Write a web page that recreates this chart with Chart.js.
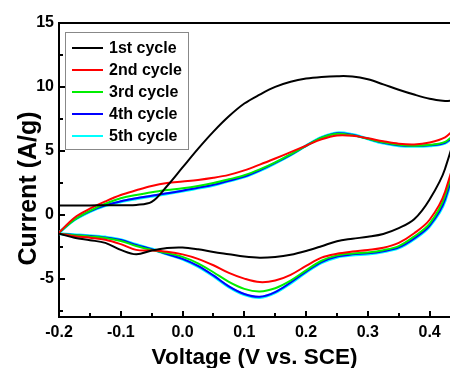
<!DOCTYPE html>
<html>
<head>
<meta charset="utf-8">
<title>CV curves</title>
<script src="https://cdn.jsdelivr.net/npm/chart.js@4.4.1/dist/chart.umd.min.js"></script>
<style>
    html, body { margin: 0; padding: 0; background: #fff; }
    #wrap { width: 450px; height: 368px; }
</style>
</head>
<body>
<div id="wrap"><canvas id="cvChart"></canvas></div>
<script>
// Потенциал (V vs. SCE): прямая развертка и обратная
const voltageUp = [-0.2, -0.175, -0.15, -0.125, -0.1, -0.075, -0.05, -0.025, 0, 0.025, 0.05, 0.075, 0.1,
    0.125, 0.15, 0.175, 0.2, 0.225, 0.25, 0.275, 0.3, 0.325, 0.35, 0.375, 0.4, 0.425, 0.45];
const voltageDown = [0.425, 0.4, 0.375, 0.35, 0.325, 0.3, 0.275, 0.25, 0.225, 0.2, 0.175, 0.15, 0.125,
    0.1, 0.075, 0.05, 0.025, 0, -0.025, -0.05, -0.075, -0.1, -0.125, -0.15, -0.175, -0.2];

const cycleLabels = ['1st cycle', '2nd cycle', '3rd cycle', '4th cycle', '5th cycle'];
const cycleColors = ['#000000', '#ff0000', '#00ee00', '#0000ff', '#00ffff'];

// Ток (A/g), анодная ветвь
const cycle1Up = [0.73, 0.73, 0.73, 0.74, 0.75, 0.77, 1.0, 2.25, 3.7, 5.15, 6.5, 7.7, 8.7, 9.4, 10.0, 10.4, 10.65, 10.78, 10.84, 10.82, 10.6, 10.2, 9.78, 9.4, 9.08, 8.9, 8.8];
const cycle2Up = [-1.4, -0.23, 0.47, 1.04, 1.54, 1.91, 2.25, 2.48, 2.6, 2.72, 2.89, 3.12, 3.47, 3.92, 4.4, 4.9, 5.4, 5.9, 6.2, 6.18, 5.98, 5.75, 5.56, 5.5, 5.65, 6.05, 7.0];
const cycle3Up = [-1.4, -0.39, 0.31, 0.86, 1.29, 1.54, 1.76, 1.93, 2.07, 2.25, 2.48, 2.77, 3.09, 3.55, 4.1, 4.73, 5.39, 6.02, 6.33, 6.21, 5.94, 5.66, 5.47, 5.4, 5.47, 5.7, 6.6];
const cycle4Up = [-1.4, -0.39, 0.27, 0.74, 1.05, 1.29, 1.48, 1.68, 1.88, 2.11, 2.34, 2.66, 2.99, 3.48, 4.06, 4.69, 5.39, 6.02, 6.37, 6.25, 5.94, 5.63, 5.43, 5.39, 5.43, 5.63, 6.4];
const cycle5Up = [-1.4, -0.4, 0.25, 0.72, 1.02, 1.25, 1.45, 1.65, 1.85, 2.08, 2.31, 2.63, 2.96, 3.45, 4.04, 4.68, 5.4, 6.05, 6.4, 6.27, 5.94, 5.6, 5.4, 5.35, 5.4, 5.6, 6.4];

// Ток (A/g), катодная ветвь
const cycle1Down = [3.6, 1.2, -0.35, -1.05, -1.5, -1.72, -1.88, -2.07, -2.46, -2.83, -3.13, -3.3, -3.36, -3.27, -3.09, -2.91, -2.7, -2.56, -2.6, -2.8, -3.1, -2.75, -2.2, -1.99, -1.8, -1.48];
const cycle2Down = [1.8, -0.39, -1.45, -2.2, -2.58, -2.75, -2.88, -3.05, -3.35, -4.0, -4.7, -5.15, -5.27, -5.0, -4.55, -3.95, -3.45, -3.1, -2.9, -2.8, -2.75, -2.3, -1.95, -1.8, -1.68, -1.48];
const cycle3Down = [1.5, -0.7, -1.7, -2.45, -2.77, -2.95, -3.03, -3.18, -3.6, -4.35, -5.15, -5.75, -6.0, -5.8, -5.25, -4.5, -3.8, -3.3, -3.0, -2.75, -2.45, -2.05, -1.82, -1.7, -1.6, -1.48];
const cycle4Down = [1.2, -0.85, -1.85, -2.55, -2.85, -3.02, -3.1, -3.27, -3.7, -4.45, -5.3, -6.05, -6.42, -6.2, -5.6, -4.75, -4.0, -3.45, -3.08, -2.7, -2.36, -1.98, -1.78, -1.66, -1.58, -1.48];
const cycle5Down = [1.1, -0.9, -1.9, -2.6, -2.9, -3.07, -3.15, -3.32, -3.75, -4.5, -5.35, -6.1, -6.48, -6.25, -5.65, -4.8, -4.05, -3.47, -3.08, -2.68, -2.33, -1.95, -1.75, -1.64, -1.56, -1.48];

const FONT = '"Liberation Sans", Arial, sans-serif';

// Собираем замкнутую петлю ЦВА из двух ветвей
function makeLoop(up, down) {
    const pts = voltageUp.map((v, i) => ({ x: v, y: up[i] }));
    voltageDown.forEach((v, i) => pts.push({ x: v, y: down[i] }));
    return pts;
}

const upSets = [cycle1Up, cycle2Up, cycle3Up, cycle4Up, cycle5Up];
const downSets = [cycle1Down, cycle2Down, cycle3Down, cycle4Down, cycle5Down];
const widths = [2, 2, 2, 2, 3];

// Засечки внутрь и верхняя рамка
const innerTicks = {
    id: 'innerTicks',
    afterDraw(chart) {
        const { ctx, chartArea, scales } = chart;
        ctx.save();
        ctx.strokeStyle = '#000';
        ctx.lineWidth = 2;
        ctx.beginPath();
        ctx.moveTo(chartArea.left - 1, chartArea.top);
        ctx.lineTo(chartArea.right, chartArea.top);
        ctx.stroke();
        scales.x.ticks.forEach(t => {
            const px = Math.round(scales.x.getPixelForValue(t.value));
            const len = t.label ? 6 : 4;
            ctx.beginPath();
            ctx.moveTo(px, chartArea.bottom);
            ctx.lineTo(px, chartArea.bottom - len);
            ctx.stroke();
        });
        scales.y.ticks.forEach(t => {
            const py = Math.round(scales.y.getPixelForValue(t.value));
            const len = t.label ? 6 : 4;
            ctx.beginPath();
            ctx.moveTo(chartArea.left, py);
            ctx.lineTo(chartArea.left + len, py);
            ctx.stroke();
        });
        ctx.restore();
    }
};

// Легенда в рамке внутри области графика
const boxedLegend = {
    id: 'boxedLegend',
    afterDatasetsDraw(chart) {
        const { ctx, chartArea } = chart;
        const x0 = chartArea.left + 6, y0 = chartArea.top + 9;
        ctx.save();
        ctx.fillStyle = '#fff';
        ctx.fillRect(x0, y0, 123, 117);
        ctx.strokeStyle = '#888';
        ctx.lineWidth = 1;
        ctx.strokeRect(x0 + 0.5, y0 + 0.5, 123, 117);
        ctx.font = 'bold 16px ' + FONT;
        ctx.textBaseline = 'middle';
        chart.data.datasets.forEach((ds, i) => {
            const cy = Math.round(y0 + 16 + i * 22.1);
            ctx.strokeStyle = ds.borderColor;
            ctx.lineWidth = 2;
            ctx.beginPath();
            ctx.moveTo(x0 + 7, cy);
            ctx.lineTo(x0 + 38, cy);
            ctx.stroke();
            ctx.fillStyle = '#000';
            ctx.fillText(ds.label, x0 + 44, cy + 1);
        });
        ctx.restore();
    }
};

// Подпись оси Y
const yAxisTitle = {
    id: 'yAxisTitle',
    afterDraw(chart) {
        const ctx = chart.ctx;
        ctx.save();
        ctx.translate(36, 188.5);
        ctx.rotate(-Math.PI / 2);
        ctx.font = 'bold 25px ' + FONT;
        ctx.fillStyle = '#000';
        ctx.textAlign = 'center';
        ctx.textBaseline = 'alphabetic';
        ctx.fillText('Current (A/g)', 0, 0);
        ctx.restore();
    }
};

Chart.defaults.font.family = FONT;
Chart.defaults.color = '#000';

new Chart(document.getElementById('cvChart'), {
    type: 'scatter',
    data: {
        datasets: cycleLabels.map((label, i) => ({
            label: label,
            data: makeLoop(upSets[i], downSets[i]),
            showLine: true,
            borderColor: cycleColors[i],
            backgroundColor: cycleColors[i],
            borderWidth: widths[i],
            pointRadius: 0,
            tension: 0.35
        }))
    },
    options: {
        responsive: true,
        maintainAspectRatio: false,
        animation: false,
        layout: { padding: { top: 23, right: 0, bottom: 0, left: 0 } },
        plugins: {
            legend: { display: false },
            tooltip: { enabled: false }
        },
        scales: {
            x: {
                type: 'linear',
                min: -0.2,
                max: 0.433,
                grid: { drawOnChartArea: false, drawTicks: false },
                border: { color: '#000', width: 2 },
                ticks: {
                    stepSize: 0.05,
                    includeBounds: false,
                    autoSkip: false,
                    maxRotation: 0,
                    padding: 6,
                    font: { size: 16, weight: 'bold' },
                    callback: v => (Math.round(v * 20) % 2 === 0) ? (Math.round(v * 10) / 10 + 0).toFixed(1) : ''
                },
                title: {
                    display: true,
                    text: 'Voltage (V vs. SCE)',
                    font: { size: 22.5, weight: 'bold', lineHeight: 1 },
                    padding: { top: 0, bottom: -1 }
                },
                afterFit: s => { s.height = 51; s.paddingRight = 0; }
            },
            y: {
                type: 'linear',
                min: -8,
                max: 15,
                grid: { drawOnChartArea: false, drawTicks: false },
                border: { color: '#000', width: 2 },
                ticks: {
                    stepSize: 2.5,
                    includeBounds: false,
                    padding: 5,
                    font: { size: 16, weight: 'bold' },
                    callback: v => (Math.abs(v % 5) < 1e-9) ? String(v) : ''
                },
                afterFit: s => { s.width = 59; }
            }
        }
    },
    plugins: [innerTicks, boxedLegend, yAxisTitle]
});
</script>
</body>
</html>
